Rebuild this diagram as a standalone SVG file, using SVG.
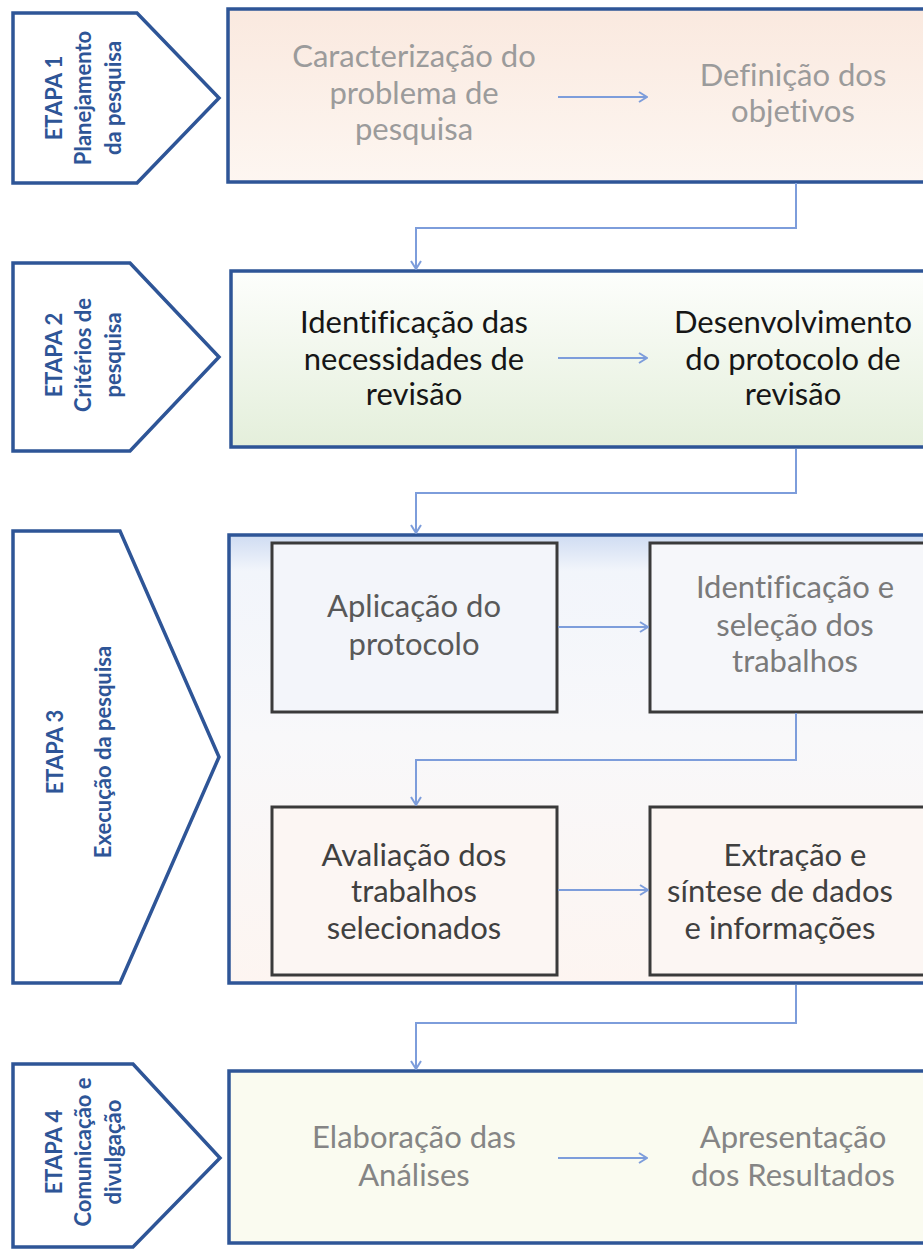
<svg xmlns="http://www.w3.org/2000/svg" width="923" height="1249" viewBox="0 0 923 1249">
<defs>
<linearGradient id="g1" x1="0" y1="0" x2="0" y2="1">
<stop offset="0" stop-color="#fae9df"/><stop offset="1" stop-color="#fdf6f1"/>
</linearGradient>
<linearGradient id="g2" x1="0" y1="0" x2="0" y2="1">
<stop offset="0" stop-color="#fdfefc"/><stop offset="1" stop-color="#e4efdb"/>
</linearGradient>
<linearGradient id="g3" x1="0" y1="0" x2="0" y2="1">
<stop offset="0" stop-color="#cfdcf2"/><stop offset="0.08" stop-color="#f2f5fb"/><stop offset="0.45" stop-color="#f8f8fa"/><stop offset="1" stop-color="#fdf5f1"/>
</linearGradient>
<marker id="ah" viewBox="0 0 10 12" refX="9" refY="6" markerWidth="10" markerHeight="12" markerUnits="userSpaceOnUse" orient="auto">
<path d="M1,1 L9,6 L1,11" fill="none" stroke="#7d9ddb" stroke-width="2"/>
</marker>
<style>
.chev{fill:#ffffff;stroke:#2e5597;stroke-width:3.5;stroke-linejoin:miter}
.box{stroke:#2e5597;stroke-width:3.5}
.inner{stroke:#3a3a3a;stroke-width:3}
.ct{font-family:Lato,"Liberation Sans",sans-serif;font-weight:700;font-size:22px;fill:#2e5597;text-anchor:middle}
.t{font-family:Lato,"Liberation Sans",sans-serif;font-size:31px;text-anchor:middle;font-variant-ligatures:none}
.conn{fill:none;stroke:#7d9ddb;stroke-width:2;marker-end:url(#ah)}
</style>
</defs>

<g id="stage1">
<polygon class="chev" points="13,13 137,13 219,98 137,183 13,183"/>
<g transform="translate(0,98) rotate(-90)">
<text class="ct" x="0" y="62">ETAPA 1</text>
<text class="ct" x="0" y="91">Planejamento</text>
<text class="ct" x="0" y="121">da pesquisa</text>
</g>
</g>
<g id="box1">
<rect class="box" x="228" y="9" width="712" height="173" fill="url(#g1)"/>
<text class="t" fill="#9b9b9b" x="414" y="67">Caracterização do</text>
<text class="t" fill="#9b9b9b" x="414" y="104">problema de</text>
<text class="t" fill="#9b9b9b" x="414" y="140">pesquisa</text>
<text class="t" fill="#9b9b9b" x="793" y="86">Definição dos</text>
<text class="t" fill="#9b9b9b" x="793" y="122">objetivos</text>
</g>

<g id="stage2">
<polygon class="chev" points="13,263 130,263 219,357 130,451 13,451"/>
<g transform="translate(0,355) rotate(-90)">
<text class="ct" x="0" y="62">ETAPA 2</text>
<text class="ct" x="0" y="91">Critérios de</text>
<text class="ct" x="0" y="121">pesquisa</text>
</g>
</g>
<g id="box2">
<rect class="box" x="231" y="271" width="712" height="176" fill="url(#g2)"/>
<text class="t" fill="#161616" x="414" y="333">Identificação das</text>
<text class="t" fill="#161616" x="414" y="370">necessidades de</text>
<text class="t" fill="#161616" x="414" y="405">revisão</text>
<text class="t" fill="#161616" x="793" y="333">Desenvolvimento</text>
<text class="t" fill="#161616" x="793" y="370">do protocolo de</text>
<text class="t" fill="#161616" x="793" y="405">revisão</text>
</g>

<g id="stage3">
<polygon class="chev" points="13,531 120,531 219,757 120,983 13,983"/>
<g transform="translate(0,752) rotate(-90)">
<text class="ct" x="0" y="63">ETAPA 3</text>
<text class="ct" x="0" y="111">Execução da pesquisa</text>
</g>
</g>
<g id="box3">
<rect class="box" x="229" y="535" width="712" height="448" fill="url(#g3)"/>
</g>
<g id="node-aplicacao">
<rect class="inner" x="272" y="543" width="285" height="169" fill="#f3f5fa"/>
<text class="t" fill="#595959" x="414" y="617">Aplicação do</text>
<text class="t" fill="#595959" x="414" y="655">protocolo</text>
</g>
<g id="node-identificacao">
<rect class="inner" x="650" y="543" width="292" height="169" fill="#f6f7fa"/>
<text class="t" fill="#7a7a7a" x="795" y="598">Identificação e</text>
<text class="t" fill="#7a7a7a" x="795" y="636">seleção dos</text>
<text class="t" fill="#7a7a7a" x="795" y="672">trabalhos</text>
</g>
<g id="node-avaliacao">
<rect class="inner" x="272" y="807" width="285" height="168" fill="#fcf6f3"/>
<text class="t" fill="#404040" x="414" y="866">Avaliação dos</text>
<text class="t" fill="#404040" x="414" y="902">trabalhos</text>
<text class="t" fill="#404040" x="414" y="939">selecionados</text>
</g>
<g id="node-extracao">
<rect class="inner" x="650" y="807" width="292" height="168" fill="#fcf6f3"/>
<text class="t" fill="#404040" x="795" y="866">Extração e</text>
<text class="t" fill="#404040" x="780" y="902">síntese de dados</text>
<text class="t" fill="#404040" x="780" y="939">e informações</text>
</g>

<g id="stage4">
<polygon class="chev" points="13,1064 133,1064 220,1158 133,1247 13,1247"/>
<g transform="translate(0,1152) rotate(-90)">
<text class="ct" x="0" y="62">ETAPA 4</text>
<text class="ct" x="0" y="91">Comunicação e</text>
<text class="ct" x="0" y="121">divulgação</text>
</g>
</g>
<g id="box4">
<rect class="box" x="229" y="1071" width="712" height="172" fill="#fafbf0"/>
<text class="t" fill="#858585" x="414" y="1148">Elaboração das</text>
<text class="t" fill="#858585" x="414" y="1186">Análises</text>
<text class="t" fill="#858585" x="793" y="1148">Apresentação</text>
<text class="t" fill="#858585" x="793" y="1186">dos Resultados</text>
</g>

<g id="connectors">
<path class="conn" d="M796,183 V228 H416 V269"/>
<path class="conn" d="M796,449 V493 H416 V533"/>
<path class="conn" d="M796,713 V760 H416 V805"/>
<path class="conn" d="M796,985 V1023 H416 V1069"/>
<path class="conn" d="M558,97 H647"/>
<path class="conn" d="M558,358 H647"/>
<path class="conn" d="M558,627 H648"/>
<path class="conn" d="M558,890 H648"/>
<path class="conn" d="M558,1158 H647"/>
</g>
</svg>
